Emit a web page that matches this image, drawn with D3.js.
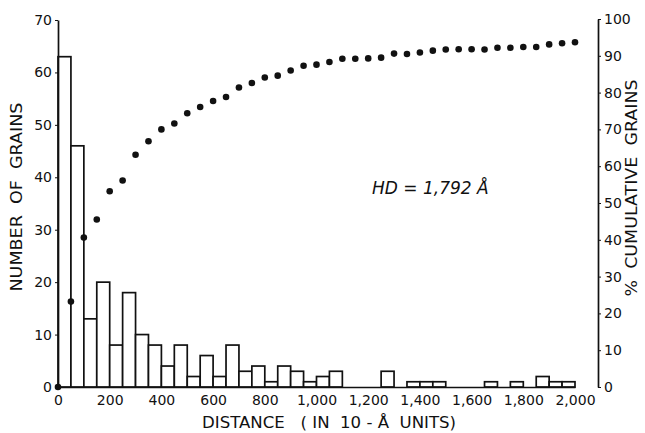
<!DOCTYPE html>
<html>
<head>
<meta charset="utf-8">
<script src="https://cdn.jsdelivr.net/npm/d3@7"></script>
<style>
  body { margin: 0; background: #fff; }
  svg { display: block; }
  text { font-family: 'DejaVu Sans', sans-serif; fill: #111; white-space: pre; }
</style>
</head>
<body>
<svg id="chart" width="645" height="433"></svg>
<script>
// histogram bins, 50 units wide, 0 .. 2000
const binStarts = d3.range(0, 2000, 50)
const counts = [63, 46, 13, 20, 8, 18, 10, 8, 4, 8,
  2, 6, 2, 8, 3, 4, 1, 4, 3, 1,
  2, 3, 0, 0, 0, 3, 0, 1, 1, 1,
  0, 0, 0, 1, 0, 1, 0, 2, 1, 1]

// cumulative % of grains, read at every 50 units
const cumDist = d3.range(0, 2001, 50)
const cumPct = [0, 23.2, 40.6, 45.5, 53.2, 56.1, 63.1, 66.8, 70.0, 71.6,
  74.4, 76.1, 77.7, 78.8, 81.4, 82.6, 84.1, 84.6, 86.0, 87.3,
  87.6, 88.3, 89.2, 89.2, 89.3, 89.5, 90.6, 90.5, 90.9, 91.4,
  91.7, 91.8, 91.8, 91.7, 92.2, 92.2, 92.4, 92.4, 93.1, 93.4, 93.7]

const xTicks = d3.range(0, 2001, 200)
const leftTicks = d3.range(0, 71, 10)
const rightTicks = d3.range(0, 101, 10)

const svg = d3.select('#chart')

const x = d3.scaleLinear().domain([0, 2000]).range([58, 575])
const yL = d3.scaleLinear().domain([0, 70]).range([387, 20])
const yR = d3.scaleLinear().domain([0, 100]).range([387, 19])

// bars
svg.append('g')
  .selectAll('rect')
  .data(binStarts.map((s, i) => ({ s, c: counts[i] })).filter(d => d.c > 0))
  .enter()
  .append('rect')
  .attr('x', d => x(d.s))
  .attr('y', d => yL(d.c))
  .attr('width', d => x(d.s + 50) - x(d.s))
  .attr('height', d => yL(0) - yL(d.c))
  .attr('fill', '#fff')
  .attr('stroke', '#111')
  .attr('stroke-width', 1.7)

// axes
const fmt = d3.format(',')
const bottom = svg.append('g')
  .attr('transform', 'translate(0,' + yL(0) + ')')
  .call(d3.axisBottom(x).tickValues(xTicks).tickFormat(fmt).tickSize(0).tickPadding(8))
bottom.select('.domain').attr('stroke', '#111').attr('stroke-width', 1.7)

const left = svg.append('g')
  .attr('transform', 'translate(' + x(0) + ',0)')
  .call(d3.axisLeft(yL).tickValues(leftTicks).tickSize(3).tickPadding(3).tickSizeOuter(0))
left.select('.domain').attr('stroke', '#111').attr('stroke-width', 1.7)

const right = svg.append('g')
  .attr('transform', 'translate(598,0)')
  .call(d3.axisRight(yR).tickValues(rightTicks).tickSize(3).tickPadding(3).tickSizeOuter(0))
right.select('.domain').attr('stroke', '#111').attr('stroke-width', 1.7)

svg.selectAll('.tick text')
  .style('font-size', '14px')
  .style('font-family', "'DejaVu Sans', sans-serif")
  .attr('fill', '#111')
svg.selectAll('.tick line').attr('stroke', '#111')

// cumulative dots
svg.append('g')
  .selectAll('circle')
  .data(cumDist.map((d, i) => ({ d, p: cumPct[i] })))
  .enter()
  .append('circle')
  .attr('cx', d => x(d.d))
  .attr('cy', d => yR(d.p))
  .attr('r', 3.3)
  .attr('fill', '#111')

// titles
svg.append('text')
  .attr('transform', 'translate(22,197) rotate(-90)')
  .attr('text-anchor', 'middle')
  .attr('textLength', 189)
  .attr('lengthAdjust', 'spacingAndGlyphs')
  .style('font-size', '15px')
  .text('NUMBER  OF  GRAINS')

svg.append('text')
  .attr('transform', 'translate(637,188) rotate(-90)')
  .attr('text-anchor', 'middle')
  .attr('textLength', 217)
  .attr('lengthAdjust', 'spacingAndGlyphs')
  .style('font-size', '15px')
  .text('%  CUMULATIVE  GRAINS')

svg.append('text')
  .attr('x', 202)
  .attr('y', 428)
  .attr('textLength', 254)
  .attr('lengthAdjust', 'spacingAndGlyphs')
  .style('font-size', '15px')
  .text('DISTANCE   ( IN  10 - Å  UNITS)')

svg.append('text')
  .attr('x', 372)
  .attr('y', 194)
  .style('font-size', '17px')
  .style('font-style', 'italic')
  .text('HD = 1,792 Å')
</script>
</body>
</html>
